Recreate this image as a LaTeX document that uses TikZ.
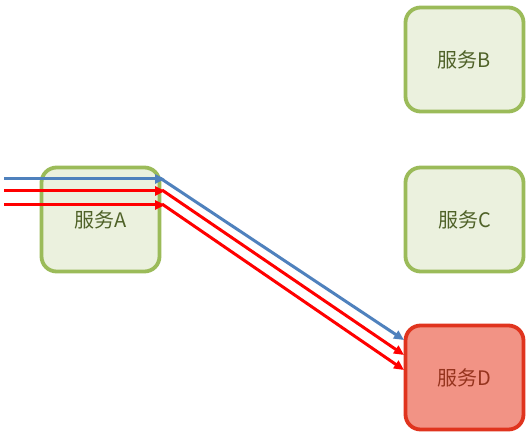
\documentclass[tikz,border=0pt]{standalone}
\usepackage{fontspec}
\setmainfont{Noto Sans CJK SC}
\usetikzlibrary{arrows.meta}
\definecolor{gborder}{RGB}{155,187,89}
\definecolor{gfill}{RGB}{235,241,222}
\definecolor{gtext}{RGB}{79,98,40}
\definecolor{rborder}{RGB}{224,52,30}
\definecolor{rfill}{RGB}{242,147,133}
\definecolor{rtext}{RGB}{150,52,30}
\definecolor{bline}{RGB}{79,129,189}
\definecolor{rline}{RGB}{255,0,0}
\tikzset{
  svc/.style={draw=gborder, fill=gfill, text=gtext, line width=3.8pt, rounded corners=15pt,
    minimum width=118pt, minimum height=104pt, font=\fontsize{20}{24}\selectfont, inner sep=0pt},
  svcred/.style={svc, draw=rborder, fill=rfill, text=rtext},
  flow/.style={line width=3pt, -{Triangle[length=10pt,width=9pt]}},
}
\begin{document}
\begin{tikzpicture}[x=1pt,y=-1pt]
\useasboundingbox (0,0) rectangle (530,438);
\node[svc] (A) at (100.5,219.5) {服务A};
\node[svc] (B) at (464.5,59.5) {服务B};
\node[svc] (C) at (464.5,219.5) {服务C};
\node[svcred] (D) at (464.5,377.5) {服务D};
\coordinate (s1) at (4,179);
\coordinate (s2) at (4,191);
\coordinate (s3) at (4,205);
\coordinate (m1) at (165,179);
\coordinate (m2) at (165,191);
\coordinate (m3) at (165,205);
\coordinate (n1) at (160,178);
\coordinate (n2) at (162,190);
\coordinate (n3) at (162,204);
\coordinate (e1) at (404,340);
\coordinate (e2) at (404,355);
\coordinate (e3) at (404,370);
\draw[flow, draw=bline, fill=bline] (s1) -- (m1);
\draw[flow, draw=bline, fill=bline] (n1) -- (e1);
\draw[flow, draw=rline, fill=rline] (s2) -- (m2);
\draw[flow, draw=rline, fill=rline] (n2) -- (e2);
\draw[flow, draw=rline, fill=rline] (s3) -- (m3);
\draw[flow, draw=rline, fill=rline] (n3) -- (e3);
\end{tikzpicture}
\end{document}
